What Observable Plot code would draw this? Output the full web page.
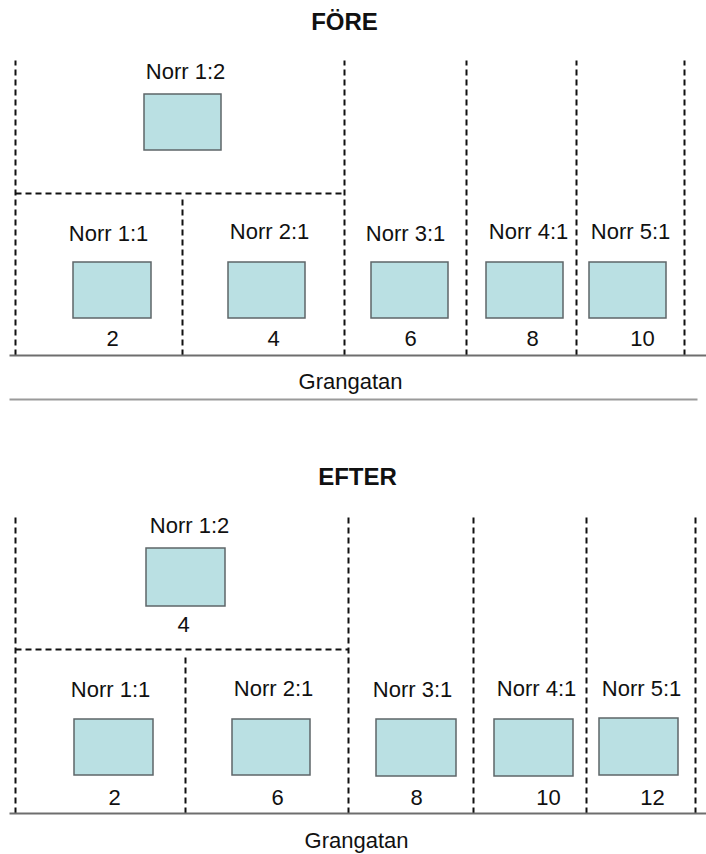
<!DOCTYPE html>
<html><head><meta charset="utf-8">
<script src="https://cdn.jsdelivr.net/npm/d3@7"></script>
<script src="https://cdn.jsdelivr.net/npm/@observablehq/plot@0.6"></script>
<style>
body{margin:0;background:#fff;}
#chart svg{display:block;}
</style></head><body><div id="chart"></div>
<script>
// Map coordinates: x = distance along Grangatan, y = distance from the street line
const streetName = "Grangatan";

// ---------- FÖRE ----------
const foreTitle = "FÖRE";
const foreLots = ["Norr 1:2", "Norr 1:1", "Norr 2:1", "Norr 3:1", "Norr 4:1", "Norr 5:1"];
const foreHouseX1 = [144, 73, 228, 371, 486, 589];
const foreHouseX2 = [221, 151, 305, 448, 563, 666];
const foreHouseY1 = [205, 37, 37, 37, 37, 37];
const foreHouseY2 = [261, 93, 93, 93, 93, 93];
const foreLabelX = [185, 108, 269, 405, 528, 630];
const foreLabelY = [284, 122, 124, 122, 124, 124];
const foreNumbers = ["2", "4", "6", "8", "10"];
const foreNumberX = [112, 273, 410, 532, 642];
const foreNumberY = [17, 17, 17, 17, 17];
const foreBoundX1 = [15, 344, 466, 576, 684, 182, 15];
const foreBoundX2 = [15, 344, 466, 576, 684, 182, 344];
const foreBoundY1 = [0, 0, 0, 0, 0, 0, 162];
const foreBoundY2 = [295, 295, 295, 295, 295, 157, 162];
const foreStreetX1 = [9, 9];
const foreStreetX2 = [706, 697];
const foreStreetY = [0, -44];
const foreTitlePos = [344, 333];
const foreStreetLabelPos = [350, -26];

// ---------- EFTER ----------
const efterTitle = "EFTER";
const efterLots = ["Norr 1:2", "Norr 1:1", "Norr 2:1", "Norr 3:1", "Norr 4:1", "Norr 5:1"];
const efterHouseX1 = [146, 74, 232, 376, 494, 599];
const efterHouseX2 = [225, 153, 310, 456, 573, 678];
const efterHouseY1 = [207, 38, 38, 37, 37, 38];
const efterHouseY2 = [265, 94, 94, 94, 94, 95];
const efterLabelX = [189, 110, 273, 412, 536, 641];
const efterLabelY = [288, 124, 125, 124, 125, 125];
const efterNumbers = ["4", "2", "6", "8", "10", "12"];
const efterNumberX = [183, 114, 277, 416, 548, 652];
const efterNumberY = [189, 16, 16, 16, 16, 16];
const efterBoundX1 = [15, 348, 473, 586, 695, 185, 15];
const efterBoundX2 = [15, 348, 473, 586, 695, 185, 348];
const efterBoundY1 = [0, 0, 0, 0, 0, 0, 164];
const efterBoundY2 = [300, 300, 300, 300, 300, 159, 164];
const efterStreetX1 = [9];
const efterStreetX2 = [706];
const efterStreetY = [0];
const efterTitlePos = [357, 336];
const efterStreetLabelPos = [356, -27];

const FONT = "'Liberation Sans', Arial, Helvetica, sans-serif";

function panel(p) {
  const houses = p.lots.map((name, i) => ({name, x1: p.hx1[i], x2: p.hx2[i], y1: p.hy1[i], y2: p.hy2[i]}));
  const labels = p.lots.map((name, i) => ({name, x: p.lx[i], y: p.ly[i]}));
  const numbers = p.nums.map((n, i) => ({n, x: p.nx[i], y: p.ny[i]}));
  const bounds = p.bx1.map((v, i) => ({x1: v, x2: p.bx2[i], y1: p.by1[i], y2: p.by2[i]}));
  const streets = p.sx1.map((v, i) => ({x1: v, x2: p.sx2[i], y: p.sy[i], main: i === 0}));
  return Plot.plot({
    width: 706,
    height: p.height,
    margin: 0,
    style: {fontFamily: FONT, background: "#fff"},
    x: {domain: [0, 706], range: [0, 706], axis: null},
    y: {domain: [0, p.street], range: [p.street, 0], axis: null},
    marks: [
      Plot.link(bounds, {x1: "x1", x2: "x2", y1: "y1", y2: "y2", stroke: "#111", strokeWidth: 2, strokeDasharray: "6,4"}),
      Plot.link(streets.filter(d => d.main), {x1: "x1", x2: "x2", y1: "y", y2: "y", stroke: "#6e6e6e", strokeWidth: 1.8}),
      Plot.link(streets.filter(d => !d.main), {x1: "x1", x2: "x2", y1: "y", y2: "y", stroke: "#9a9a9a", strokeWidth: 2}),
      Plot.rect(houses, {x1: "x1", x2: "x2", y1: "y1", y2: "y2", fill: "#bae0e3", stroke: "#5e6668", strokeWidth: 1.5}),
      Plot.text(labels, {x: "x", y: "y", text: "name", fontSize: 22, fill: "#111"}),
      Plot.text(numbers, {x: "x", y: "y", text: "n", fontSize: 22, fill: "#111"}),
      Plot.text([p.title], {x: p.titlePos[0], y: p.titlePos[1], text: d => d, fontSize: 24, fontWeight: "bold", fill: "#111"}),
      Plot.text([streetName], {x: p.streetLabelPos[0], y: p.streetLabelPos[1], text: d => d, fontSize: 22, fill: "#111"})
    ]
  });
}

const chart = document.getElementById("chart");
chart.appendChild(panel({
  height: 456, street: 355, title: foreTitle, titlePos: foreTitlePos, streetLabelPos: foreStreetLabelPos,
  lots: foreLots, hx1: foreHouseX1, hx2: foreHouseX2, hy1: foreHouseY1, hy2: foreHouseY2,
  lx: foreLabelX, ly: foreLabelY, nums: foreNumbers, nx: foreNumberX, ny: foreNumberY,
  bx1: foreBoundX1, bx2: foreBoundX2, by1: foreBoundY1, by2: foreBoundY2,
  sx1: foreStreetX1, sx2: foreStreetX2, sy: foreStreetY
}));
chart.appendChild(panel({
  height: 398, street: 357, title: efterTitle, titlePos: efterTitlePos, streetLabelPos: efterStreetLabelPos,
  lots: efterLots, hx1: efterHouseX1, hx2: efterHouseX2, hy1: efterHouseY1, hy2: efterHouseY2,
  lx: efterLabelX, ly: efterLabelY, nums: efterNumbers, nx: efterNumberX, ny: efterNumberY,
  bx1: efterBoundX1, bx2: efterBoundX2, by1: efterBoundY1, by2: efterBoundY2,
  sx1: efterStreetX1, sx2: efterStreetX2, sy: efterStreetY
}));
</script></body></html>
